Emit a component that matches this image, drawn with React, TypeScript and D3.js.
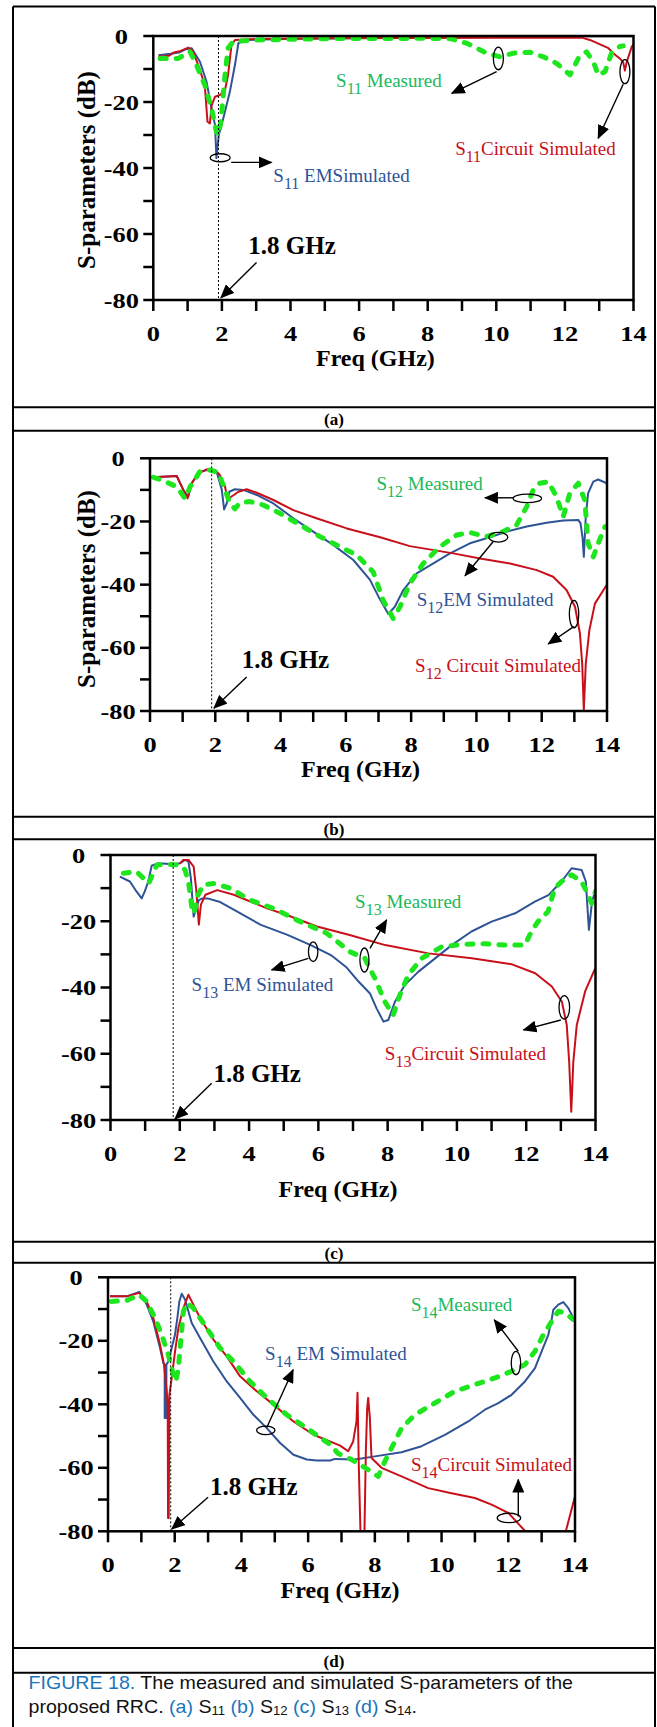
import React from 'react';
import * as d3 from 'd3';

type Pt = [number, number];

// ---------- tick values ----------
const FREQ_TICKS = d3.range(0, 15, 1);
const FREQ_LABELS = [0, 2, 4, 6, 8, 10, 12, 14];
const DB_TICKS = d3.range(0, -90, -10);
const DB_LABELS = [0, -20, -40, -60, -80];

// ---------- (a) S11 ----------
const s11EM: Pt[] = [[0.15,-5.8],[0.5,-5.4],[0.75,-5.0],[0.95,-4.0],[1.12,-3.7],[1.36,-7.8],[1.55,-13.8],[1.7,-22],[1.8,-27],[1.84,-37],[1.91,-30],[2.04,-25],[2.23,-17],[2.38,-8.8],[2.48,-2.2],[2.67,-1.2],[4,-0.8],[8,-0.5],[10,-0.3],[12.5,-0.1],[14,-0.1]];
const s11Circuit: Pt[] = [[0.15,-6.3],[0.45,-6],[0.6,-5],[0.8,-4.5],[1.02,-3.5],[1.15,-4.5],[1.31,-8.8],[1.5,-14.8],[1.58,-26],[1.65,-26.5],[1.7,-21],[1.8,-18.4],[1.94,-17.9],[2.09,-16.4],[2.18,-11.8],[2.28,-2.7],[2.38,-1.2],[3,-0.9],[6,-0.6],[10,-0.5],[12.49,-0.5],[12.73,-1.2],[13.27,-3.7],[13.41,-5.2],[13.6,-6.8],[13.7,-8],[13.75,-10.5],[13.8,-8],[13.95,-3.2],[14,-2.5]];
const s11Measured: Pt[] = [[0.2,-6.8],[0.73,-6.8],[1.07,-4.7],[1.26,-8.8],[1.5,-14.8],[1.7,-22],[1.84,-29],[1.91,-30],[1.99,-24],[2.09,-11.8],[2.18,-3.7],[2.33,-1.7],[3,-1.2],[5,-0.8],[8,-0.7],[8.65,-0.8],[9.14,-2.2],[9.72,-5.2],[10.1,-6.3],[10.5,-5.2],[10.98,-4.9],[11.37,-6.3],[11.76,-8.3],[12.15,-11.8],[12.39,-6.8],[12.63,-4.8],[12.83,-7.8],[12.97,-11.8],[13.17,-10.8],[13.36,-5.2],[13.6,-3.2],[13.7,-3]];

// ---------- (b) S12 ----------
const s12EM: Pt[] = [[0.08,-6],[0.82,-5.6],[1.02,-10],[1.17,-12.1],[1.28,-7.9],[1.48,-4.5],[1.84,-3.4],[2.04,-4.2],[2.2,-10],[2.27,-16.2],[2.35,-14.3],[2.43,-10.6],[2.6,-9.8],[2.86,-10],[3.27,-11.6],[3.78,-14.3],[4.39,-19],[5.0,-23.2],[5.62,-27.5],[6.23,-32.2],[6.74,-38.5],[7.0,-43.8],[7.15,-46.5],[7.3,-49.3],[7.5,-47],[7.76,-41.7],[8.17,-36.4],[8.68,-33.3],[9.19,-30.1],[9.8,-26.9],[10.41,-25],[10.93,-23.2],[11.54,-21.6],[12.15,-20.4],[12.66,-19.7],[13.12,-19.5],[13.19,-20.6],[13.25,-25],[13.29,-31.2],[13.35,-18.5],[13.42,-11.1],[13.58,-7.4],[13.73,-6.7],[13.99,-7.9]];
const s12Circuit: Pt[] = [[0.08,-6.0],[0.82,-5.6],[1.02,-10],[1.15,-12.7],[1.28,-7.9],[1.48,-4.75],[1.74,-3.5],[1.99,-3.7],[2.14,-5.3],[2.3,-9],[2.37,-13],[2.5,-12.1],[2.71,-10.6],[2.96,-9.8],[3.27,-10.9],[3.78,-13.2],[4.39,-16.4],[5.1,-19],[6.03,-22.2],[7.05,-25],[7.96,-27.8],[9.29,-30.1],[10.11,-31.7],[11.03,-33.3],[11.85,-35.4],[12.35,-37.5],[12.76,-41.7],[13.02,-47],[13.17,-55.4],[13.24,-65],[13.29,-79.7],[13.35,-65],[13.46,-54.4],[13.63,-46],[13.99,-40.1]];
const s12Measured: Pt[] = [[0.1,-6],[0.41,-7.1],[0.82,-9],[1.07,-12.7],[1.23,-9],[1.53,-4.2],[1.84,-3.7],[2.09,-4.5],[2.3,-10],[2.45,-14.3],[2.6,-16],[2.76,-14],[3.06,-13.7],[3.47,-14.8],[3.98,-17.4],[4.6,-21.1],[5.21,-24.8],[5.82,-28],[6.33,-30.6],[6.84,-36],[7.14,-44.9],[7.45,-50.7],[7.66,-47],[7.96,-39.6],[8.37,-33.3],[8.88,-28],[9.39,-24.3],[9.8,-23.5],[10.31,-24.8],[10.82,-23.2],[11.23,-21.1],[11.54,-15.3],[11.74,-10],[11.94,-7.9],[12.2,-7.4],[12.45,-12.1],[12.66,-18.5],[12.86,-11.1],[13.12,-7.9],[13.32,-13.2],[13.42,-26.9],[13.58,-31.2],[13.73,-26.9],[13.94,-21.6]];

// ---------- (c) S13 ----------
const s13EM: Pt[] = [[0.27,-6.5],[0.56,-8],[0.75,-11],[0.9,-13.1],[0.99,-11],[1.09,-8],[1.19,-3.2],[1.38,-2.5],[1.82,-2.8],[2.01,-2.5],[2.15,-1.5],[2.25,-2],[2.32,-7],[2.4,-18.6],[2.45,-17],[2.55,-13.6],[2.65,-13.1],[2.8,-13.1],[3.14,-14.1],[3.57,-16.6],[4.34,-21.1],[5.11,-24.1],[5.78,-27.2],[6.36,-30.2],[6.8,-33.8],[7.16,-38.2],[7.49,-41.8],[7.68,-46.3],[7.88,-50.3],[8.02,-49.8],[8.21,-44.3],[8.5,-39.2],[8.89,-35.2],[9.37,-31.2],[9.85,-27.2],[10.42,-23.1],[11.0,-20.1],[11.68,-17.6],[12.25,-14.1],[12.64,-12.1],[13.02,-8],[13.31,-4],[13.6,-4.5],[13.72,-8],[13.81,-22.6],[13.9,-14.1],[14,-10.5]];
const s13Circuit: Pt[] = [[2.0,-2.6],[2.1,-1.5],[2.25,-1.5],[2.4,-3.5],[2.48,-11],[2.55,-21],[2.61,-15],[2.74,-12],[3.08,-10.6],[3.56,-12],[4.52,-16.1],[5.09,-18.1],[5.96,-21.6],[6.85,-24],[7.93,-27.2],[9.18,-29.7],[10.43,-31.2],[11.59,-33],[12.26,-35.7],[12.74,-39.7],[13.03,-44.3],[13.17,-51.3],[13.24,-62.4],[13.3,-77.5],[13.36,-62.4],[13.46,-51.3],[13.7,-41.2],[14,-34]];
const s13Measured: Pt[] = [[0.37,-5.5],[0.75,-5],[0.95,-7],[1.1,-8.6],[1.19,-6.5],[1.34,-3],[1.63,-2.8],[2.01,-3],[2.15,-4.5],[2.25,-8],[2.35,-16.1],[2.41,-17.6],[2.53,-12],[2.68,-9],[2.97,-8.6],[3.45,-10],[4.03,-13.6],[4.7,-16.1],[5.47,-20.1],[6.24,-23.6],[6.91,-29.2],[7.34,-31.2],[7.63,-37.2],[7.92,-44.3],[8.16,-48.3],[8.35,-42.3],[8.6,-36.2],[8.98,-31.2],[9.56,-27.7],[10.14,-27],[10.81,-26.8],[11.38,-27.2],[11.96,-27.2],[12.15,-23.1],[12.34,-20.1],[12.63,-17.1],[12.82,-10.1],[13.02,-8],[13.31,-6],[13.6,-8],[13.79,-12.1],[13.89,-14.6],[14,-11]];

// ---------- (d) S14 ----------
const s14EM: Pt[] = [[0.06,-6],[0.56,-6],[0.94,-4.6],[1.16,-8.6],[1.36,-14],[1.56,-22.3],[1.66,-27],[1.7,-27.5],[1.7,-44.3],[1.75,-44.3],[1.75,-27.5],[1.81,-26.5],[1.91,-22.3],[2.01,-18],[2.08,-12.8],[2.14,-7.6],[2.21,-5.2],[2.31,-7],[2.41,-10.7],[2.51,-14.4],[2.76,-19.1],[3.16,-26.5],[3.56,-32.8],[3.96,-38],[4.36,-43.3],[4.76,-47.5],[5.16,-52.2],[5.56,-55.9],[5.96,-57.4],[6.26,-57.7],[6.66,-57.7],[6.8,-57.2],[7.4,-57.4],[8.0,-56.4],[8.8,-55.1],[9.4,-53.2],[10.1,-49.6],[10.8,-45.4],[11.3,-41.7],[11.7,-39.6],[12.1,-37],[12.5,-32.8],[12.8,-28.6],[13.0,-23.3],[13.2,-18.1],[13.3,-13.3],[13.35,-10.2],[13.5,-8.6],[13.65,-7.8],[13.8,-9.7],[13.95,-12.8]];
const s14Circuit: Pt[] = [[0.06,-6],[0.56,-6],[0.94,-4.9],[1.16,-7.6],[1.36,-12.8],[1.56,-21.2],[1.68,-27.5],[1.76,-35.9],[1.79,-40],[1.8,-75.8],[1.82,-75.8],[1.84,-37],[1.91,-31.7],[2.01,-23.3],[2.11,-16],[2.26,-9.7],[2.41,-5.5],[2.56,-8.6],[2.76,-12.8],[3.16,-19.6],[3.56,-24.9],[3.96,-31.2],[4.46,-35.9],[4.96,-40.1],[5.56,-45.4],[6.16,-49.6],[6.96,-53],[7.2,-54.8],[7.35,-51.7],[7.45,-45.4],[7.48,-36.4],[7.52,-60],[7.58,-85],[7.68,-85],[7.73,-54.8],[7.77,-41.2],[7.8,-38],[7.85,-44.3],[7.9,-56.9],[8.2,-60],[8.8,-62.7],[9.6,-66.4],[10.3,-68],[11.0,-69.5],[11.5,-71.6],[12.0,-74.2],[12.6,-81],[13.1,-95],[13.7,-81],[14,-69]];
const s14Measured: Pt[] = [[0.1,-7.6],[0.56,-7.3],[0.94,-5.5],[1.16,-7.6],[1.41,-12.8],[1.61,-18.1],[1.81,-24.4],[1.96,-30.7],[2.04,-32.8],[2.11,-28.6],[2.18,-20.2],[2.26,-10.7],[2.36,-8.1],[2.56,-9.7],[2.96,-16],[3.36,-22.3],[3.76,-26.5],[4.26,-32.8],[4.76,-38],[5.36,-43.3],[5.96,-47.5],[6.66,-52.7],[6.9,-55.5],[7.3,-57.4],[7.8,-60.6],[8.1,-62.7],[8.3,-58],[8.6,-51.7],[8.8,-47.5],[9.2,-43.3],[9.8,-39.6],[10.4,-35.9],[11.0,-33.8],[11.6,-31.7],[12.1,-29.6],[12.5,-27.5],[12.8,-23.3],[13.05,-18.1],[13.3,-13.9],[13.5,-10.7],[13.7,-11.2],[13.95,-13.3]];

// ---------- styles ----------
const SERIF = '"Liberation Serif", "Times New Roman", Times, serif';
const SANS = '"Liberation Sans", Arial, Helvetica, sans-serif';
const EM_COLOR = '#2e5496';
const CIRC_COLOR = '#c8101a';
const MEAS_COLOR = '#1ee61e';
const EM_TEXT = '#2e5496';
const CIRC_TEXT = '#c8101a';
const MEAS_TEXT = '#20b85a';
const CAPTION_BLUE = '#1b75bb';

type Ann = { f: number; db: number; rest: string };
type Ell = { f: number; db: number; rx: number; ry: number };
type Arr = { f1: number; d1: number; f2: number; d2: number };

interface PanelCfg {
  key: string; sub: string;
  em: Pt[]; circ: Pt[]; meas: Pt[];
  left: number; right: number; top: number; bottom: number;
  marker: number;
  yTitle: { x: number; y: number } | null;
  xTitleDx: number; xTitleDy: number;
  emLabel: Ann; measLabel: Ann; circLabel: Ann;
  emEll: Ell; measEll: Ell; circEll: Ell;
  emArr: Arr; measArr: Arr; circArr: Arr;
  ghz: { f: number; db: number }; ghzArr: Arr;
}

const PANELS: PanelCfg[] = [
  {
    key: 'a', sub: '11', em: s11EM, circ: s11Circuit, meas: s11Measured,
    left: 153.3, right: 633.5, top: 36, bottom: 300, marker: 1.9,
    yTitle: { x: 86, y: 170 }, xTitleDx: -18, xTitleDy: 66,
    emLabel: { f: 3.5, db: -44.2, rest: ' EMSimulated' },
    measLabel: { f: 5.33, db: -15.4, rest: ' Measured' },
    circLabel: { f: 8.8, db: -36.1, rest: 'Circuit Simulated' },
    emEll: { f: 1.95, db: -36.9, rx: 10, ry: 4 },
    measEll: { f: 10.06, db: -6.8, rx: 5, ry: 11.3 },
    circEll: { f: 13.75, db: -10.8, rx: 5, ry: 12 },
    emArr: { f1: 2.27, d1: -38.3, f2: 3.45, d2: -38.3 },
    measArr: { f1: 10.01, d1: -10.8, f2: 8.7, d2: -17.4 },
    circArr: { f1: 13.7, d1: -14.6, f2: 12.97, d2: -31 },
    ghz: { f: 2.77, db: -66.2 }, ghzArr: { f1: 3.01, d1: -68.6, f2: 1.97, d2: -79.3 },
  },
  {
    key: 'b', sub: '12', em: s12EM, circ: s12Circuit, meas: s12Measured,
    left: 150, right: 607, top: 458.3, bottom: 711, marker: 1.89,
    yTitle: { x: 86, y: 589 }, xTitleDx: -18, xTitleDy: 66,
    emLabel: { f: 8.17, db: -46.7, rest: 'EM Simulated' },
    measLabel: { f: 6.94, db: -9.9, rest: ' Measured' },
    circLabel: { f: 8.12, db: -67.5, rest: ' Circuit Simulated' },
    emEll: { f: 10.67, db: -25, rx: 9.5, ry: 4.8 },
    measEll: { f: 11.56, db: -12.7, rx: 14.2, ry: 4.3 },
    circEll: { f: 12.99, db: -49.3, rx: 4.7, ry: 13.7 },
    emArr: { f1: 10.51, d1: -26.4, f2: 9.65, d2: -37.2 },
    measArr: { f1: 11.13, d1: -12.5, f2: 10.26, d2: -12.5 },
    circArr: { f1: 12.98, d1: -53.3, f2: 12.2, d2: -58.8 },
    ghz: { f: 2.81, db: -66.5 }, ghzArr: { f1: 2.96, d1: -69.2, f2: 1.96, d2: -79.1 },
  },
  {
    key: 'c', sub: '13', em: s13EM, circ: s13Circuit, meas: s13Measured,
    left: 110.5, right: 595.5, top: 855, bottom: 1120, marker: 1.81,
    yTitle: null, xTitleDx: -15, xTitleDy: 77,
    emLabel: { f: 2.34, db: -41, rest: ' EM Simulated' },
    measLabel: { f: 7.06, db: -16.1, rest: ' Measured' },
    circLabel: { f: 7.92, db: -61.9, rest: 'Circuit Simulated' },
    emEll: { f: 5.85, db: -29.2, rx: 4.7, ry: 9.8 },
    measEll: { f: 7.33, db: -31.7, rx: 4.5, ry: 12 },
    circEll: { f: 13.1, db: -46, rx: 5.3, ry: 11.7 },
    emArr: { f1: 5.71, d1: -31.2, f2: 4.65, d2: -34.7 },
    measArr: { f1: 7.49, d1: -28.2, f2: 7.97, d2: -19.6 },
    circArr: { f1: 13.0, d1: -49.8, f2: 11.92, d2: -52.8 },
    ghz: { f: 2.97, db: -68.4 }, ghzArr: { f1: 2.92, d1: -68.9, f2: 1.86, d2: -79.7 },
  },
  {
    key: 'd', sub: '14', em: s14EM, circ: s14Circuit, meas: s14Measured,
    left: 108, right: 575, top: 1277.3, bottom: 1531.3, marker: 1.88,
    yTitle: null, xTitleDx: -1.5, xTitleDy: 67,
    emLabel: { f: 4.71, db: -26, rest: ' EM Simulated' },
    measLabel: { f: 9.08, db: -10.7, rest: 'Measured' },
    circLabel: { f: 9.08, db: -60.9, rest: 'Circuit Simulated' },
    emEll: { f: 4.73, db: -48.2, rx: 9.2, ry: 4.2 },
    measEll: { f: 12.23, db: -27, rx: 4.7, ry: 11.7 },
    circEll: { f: 12.02, db: -75.8, rx: 11.7, ry: 4.7 },
    emArr: { f1: 4.76, d1: -47.3, f2: 5.55, d2: -29.1 },
    measArr: { f1: 12.3, d1: -23.3, f2: 11.58, d2: -13.4 },
    circArr: { f1: 12.3, d1: -75.3, f2: 12.3, d2: -63.7 },
    ghz: { f: 3.06, db: -68.5 }, ghzArr: { f1: 3.0, d1: -69.3, f2: 1.91, d2: -79.3 },
  },
];

const RULES = [407.3, 430.7, 816.7, 839.3, 1241.7, 1262.7, 1648, 1672.7];
const PANEL_TAGS = [
  { t: '(a)', y: 425 }, { t: '(b)', y: 835 }, { t: '(c)', y: 1258.5 }, { t: '(d)', y: 1667 },
];
const BOX = { left: 13, right: 655, top: 6.5, bottom: 1727 };

function Label({ x, y, sub, rest, color }: { x: number; y: number; sub: string; rest: string; color: string }) {
  return (
    <text x={x} y={y} fill={color} fontFamily={SERIF} fontSize={19} style={{ whiteSpace: 'pre' }}>
      <tspan>S</tspan>
      <tspan fontSize={16} dy={7}>{sub}</tspan>
      <tspan dy={-7}>{rest}</tspan>
    </text>
  );
}

function Panel({ p }: { p: PanelCfg }) {
  const x = d3.scaleLinear().domain([0, 14]).range([p.left, p.right]);
  const y = d3.scaleLinear().domain([0, -80]).range([p.top, p.bottom]);
  const line = d3.line<Pt>().x((d) => x(d[0])).y((d) => y(d[1]));
  const clipId = `clip-${p.key}`;
  const arrow = (a: Arr) => (
    <line x1={x(a.f1)} y1={y(a.d1)} x2={x(a.f2)} y2={y(a.d2)} stroke="#000" strokeWidth={1.4} markerEnd="url(#arrowHead)" />
  );
  const ell = (e: Ell) => (
    <ellipse cx={x(e.f)} cy={y(e.db)} rx={e.rx} ry={e.ry} fill="none" stroke="#000" strokeWidth={1.3} />
  );
  const tickScale = 1.2;
  return (
    <g>
      <defs>
        <clipPath id={clipId}>
          <rect x={p.left} y={p.top} width={p.right - p.left} height={p.bottom - p.top} />
        </clipPath>
      </defs>
      {/* curves */}
      <g clipPath={`url(#${clipId})`} fill="none">
        <path d={line(p.em) || ''} stroke={EM_COLOR} strokeWidth={2} strokeLinejoin="round" />
        <path d={line(p.circ) || ''} stroke={CIRC_COLOR} strokeWidth={2} strokeLinejoin="round" />
        <path d={line(p.meas) || ''} stroke={MEAS_COLOR} strokeWidth={5} strokeDasharray="6 10" strokeLinecap="round" strokeLinejoin="round" />
      </g>
      {/* 1.8 GHz dotted marker */}
      <line x1={x(p.marker)} x2={x(p.marker)} y1={y(0)} y2={y(-80)} stroke="#000" strokeWidth={1} strokeDasharray="2 2" />
      {/* frame */}
      <rect x={p.left} y={p.top} width={p.right - p.left} height={p.bottom - p.top} fill="none" stroke="#000" strokeWidth={2.5} />
      {/* y ticks */}
      {DB_TICKS.map((t) => (
        <line key={`yt${t}`} x1={p.left - 10} x2={p.left} y1={y(t)} y2={y(t)} stroke="#000" strokeWidth={2.5} />
      ))}
      {DB_LABELS.map((t) => (
        <text key={`yl${t}`} transform={`translate(${p.left - 32},${y(t) + 7.5}) scale(${tickScale},1)`} textAnchor="middle"
          fontFamily={SERIF} fontWeight="bold" fontSize={22} fill="#000">{t}</text>
      ))}
      {/* x ticks */}
      {FREQ_TICKS.map((t) => (
        <line key={`xt${t}`} x1={x(t)} x2={x(t)} y1={p.bottom} y2={p.bottom + 11} stroke="#000" strokeWidth={2.5} />
      ))}
      {FREQ_LABELS.map((t) => (
        <text key={`xl${t}`} transform={`translate(${x(t)},${p.bottom + 41}) scale(${tickScale},1)`} textAnchor="middle"
          fontFamily={SERIF} fontWeight="bold" fontSize={22} fill="#000">{t}</text>
      ))}
      {/* axis titles */}
      <text x={(p.left + p.right) / 2 + p.xTitleDx} y={p.bottom + p.xTitleDy} textAnchor="middle"
        fontFamily={SERIF} fontWeight="bold" fontSize={24} fill="#000">Freq (GHz)</text>
      {p.yTitle && (
        <text transform={`translate(${p.yTitle.x},${p.yTitle.y}) rotate(-90)`} textAnchor="middle" dominantBaseline="central"
          fontFamily={SERIF} fontWeight="bold" fontSize={25} fill="#000">S-parameters (dB)</text>
      )}
      {/* annotations */}
      {ell(p.emEll)}{ell(p.measEll)}{ell(p.circEll)}
      {arrow(p.emArr)}{arrow(p.measArr)}{arrow(p.circArr)}{arrow(p.ghzArr)}
      <Label x={x(p.emLabel.f)} y={y(p.emLabel.db)} sub={p.sub} rest={p.emLabel.rest} color={EM_TEXT} />
      <Label x={x(p.measLabel.f)} y={y(p.measLabel.db)} sub={p.sub} rest={p.measLabel.rest} color={MEAS_TEXT} />
      <Label x={x(p.circLabel.f)} y={y(p.circLabel.db)} sub={p.sub} rest={p.circLabel.rest} color={CIRC_TEXT} />
      <text x={x(p.ghz.f)} y={y(p.ghz.db)} fontFamily={SERIF} fontWeight="bold" fontSize={25} fill="#000">1.8 GHz</text>
    </g>
  );
}

export default function App() {
  const cx = (BOX.left + BOX.right) / 2;
  return (
    <svg width={657} height={1727} viewBox="0 0 657 1727" style={{ position: 'absolute', left: 0, top: 0, background: '#fff' }}>
      <defs>
        <marker id="arrowHead" viewBox="0 0 14 12" refX={13} refY={6} markerWidth={14} markerHeight={12}
          markerUnits="userSpaceOnUse" orient="auto">
          <path d="M0,0 L14,6 L0,12 Z" fill="#000" />
        </marker>
      </defs>
      <rect x={0} y={0} width={657} height={1727} fill="#fff" />
      {/* outer box */}
      <line x1={BOX.left} x2={BOX.right} y1={BOX.top} y2={BOX.top} stroke="#000" strokeWidth={2} />
      <line x1={BOX.left} x2={BOX.left} y1={BOX.top} y2={BOX.bottom} stroke="#000" strokeWidth={2} />
      <line x1={BOX.right} x2={BOX.right} y1={BOX.top} y2={BOX.bottom} stroke="#000" strokeWidth={2} />
      {RULES.map((r) => (
        <line key={r} x1={BOX.left} x2={BOX.right} y1={r} y2={r} stroke="#000" strokeWidth={2} />
      ))}
      {PANEL_TAGS.map((t) => (
        <text key={t.t} x={cx} y={t.y} textAnchor="middle" fontFamily={SERIF} fontWeight="bold" fontSize={17} fill="#000">{t.t}</text>
      ))}
      {PANELS.map((p) => <Panel key={p.key} p={p} />)}
      {/* caption */}
      <text transform="translate(28.5,1689) scale(1.09,1)" fontFamily={SANS} fontSize={18} fill="#111" style={{ whiteSpace: 'pre' }}>
        <tspan fill={CAPTION_BLUE}>FIGURE 18.</tspan>
        <tspan> The measured and simulated S-parameters of the</tspan>
      </text>
      <text transform="translate(28.5,1713) scale(1.09,1)" fontFamily={SANS} fontSize={18} fill="#111" style={{ whiteSpace: 'pre' }}>
        <tspan>proposed RRC. </tspan>
        <tspan fill={CAPTION_BLUE}>(a)</tspan>
        <tspan> S</tspan><tspan fontSize={12} dy={2}>11</tspan>
        <tspan dy={-2} fill={CAPTION_BLUE}> (b)</tspan>
        <tspan fill="#111"> S</tspan><tspan fontSize={12} dy={2}>12</tspan>
        <tspan dy={-2} fill={CAPTION_BLUE}> (c)</tspan>
        <tspan fill="#111"> S</tspan><tspan fontSize={12} dy={2}>13</tspan>
        <tspan dy={-2} fill={CAPTION_BLUE}> (d)</tspan>
        <tspan fill="#111"> S</tspan><tspan fontSize={12} dy={2}>14</tspan>
        <tspan dy={-2}>.</tspan>
      </text>
    </svg>
  );
}
